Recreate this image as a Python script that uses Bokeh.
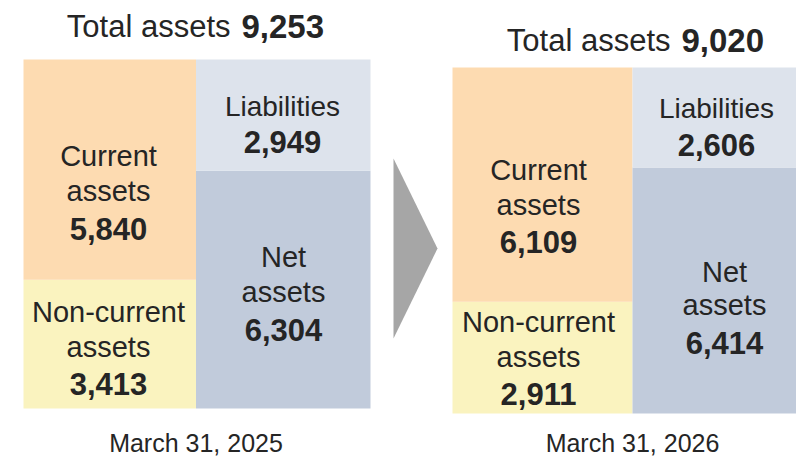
from bokeh.plotting import figure
from bokeh.models import Range1d
from bokeh.core.properties import value
from bokeh.embed import file_html
from bokeh.resources import INLINE

# ---- data ----
dates = ["March 31, 2025", "March 31, 2026"]
total_assets = [9253, 9020]
current_assets = [5840, 6109]
noncurrent_assets = [3413, 2911]
liabilities = [2949, 2606]
net_assets = [6304, 6414]

# ---- styles ----
FONT = value("Liberation Sans")
TXT = "#252525"
C_CUR = "#FDDBB1"
C_NONCUR = "#FAF3BF"
C_LIAB = "#DDE3EC"
C_NET = "#C1CBDB"
C_ARROW = "#A6A6A6"

# ---- layout (screen px) ----
OX, OY = 0, 0
W, H = 796, 458
blocks = [
    dict(x0=23, xm=195.5, x1=370, top=59, bot=408,
         title_y=26, t_norm=230, t_bold=241,
         ax=108, lx=282, nx=283,
         cur_y=(155.5, 190, 228), non_y=(311.7, 346.3, 383.3),
         liab_y=(106, 141), net_y=(256.7, 291.3, 329)),
    dict(x0=452, xm=632, x1=812, top=67, bot=413,
         title_y=40, t_norm=670, t_bold=681,
         ax=538, lx=716, nx=724,
         cur_y=(169, 204.5, 241), non_y=(321.7, 356, 393.3),
         liab_y=(108, 144), net_y=(271, 304.6, 342.5)),
]

p = figure(width=W, height=H, output_backend="svg", toolbar_location=None,
           x_range=Range1d(OX, OX + W), y_range=Range1d(OY + H, OY),
           x_axis_location=None, y_axis_location=None, min_border=0)
p.outline_line_color = None
p.xgrid.visible = False
p.ygrid.visible = False
p.background_fill_color = "white"
p.border_fill_color = "white"


def txt(x, y, s, size, bold=False, align="center"):
    p.text(x=[x], y=[y], text=[s], text_font=FONT,
           text_font_size=f"{size}px", text_color=TXT,
           text_font_style="bold" if bold else "normal",
           text_align=align, text_baseline="middle")


for i, b in enumerate(blocks):
    name = f"blk{i}"
    k = total_assets[i] / (b["bot"] - b["top"])
    p.extra_y_ranges[name] = Range1d(-(OY + H - b["bot"]) * k,
                                     total_assets[i] + (b["top"] - OY) * k)
    # assets column
    p.quad(left=[b["x0"], b["x0"]], right=[b["xm"], b["xm"]],
           bottom=[0, noncurrent_assets[i]],
           top=[noncurrent_assets[i], noncurrent_assets[i] + current_assets[i]],
           fill_color=[C_NONCUR, C_CUR], line_color=None, y_range_name=name)
    # liabilities / net assets column
    p.quad(left=[b["xm"], b["xm"]], right=[b["x1"], b["x1"]],
           bottom=[0, net_assets[i]],
           top=[net_assets[i], net_assets[i] + liabilities[i]],
           fill_color=[C_NET, C_LIAB], line_color=None, y_range_name=name)

    # title
    txt(b["t_norm"], b["title_y"], "Total assets", 31, align="right")
    txt(b["t_bold"], b["title_y"], f"{total_assets[i]:,}", 33, bold=True, align="left")

    # labels
    y = b["cur_y"]
    txt(b["ax"], y[0], "Current", 29)
    txt(b["ax"], y[1], "assets", 29)
    txt(b["ax"], y[2], f"{current_assets[i]:,}", 31, bold=True)
    y = b["non_y"]
    txt(b["ax"], y[0], "Non-current", 29)
    txt(b["ax"], y[1], "assets", 29)
    txt(b["ax"], y[2], f"{noncurrent_assets[i]:,}", 31, bold=True)
    y = b["liab_y"]
    txt(b["lx"], y[0], "Liabilities", 28)
    txt(b["lx"], y[1], f"{liabilities[i]:,}", 31, bold=True)
    y = b["net_y"]
    txt(b["nx"], y[0], "Net", 29)
    txt(b["nx"], y[1], "assets", 29)
    txt(b["nx"], y[2], f"{net_assets[i]:,}", 31, bold=True)

    # date
    txt(b["xm"], 442.5, dates[i], 25)

# arrow between the two blocks
p.patch(x=[393, 393, 437], y=[158, 338, 248], fill_color=C_ARROW, line_color=None)

open("out.html", "w").write(file_html(p, INLINE))
